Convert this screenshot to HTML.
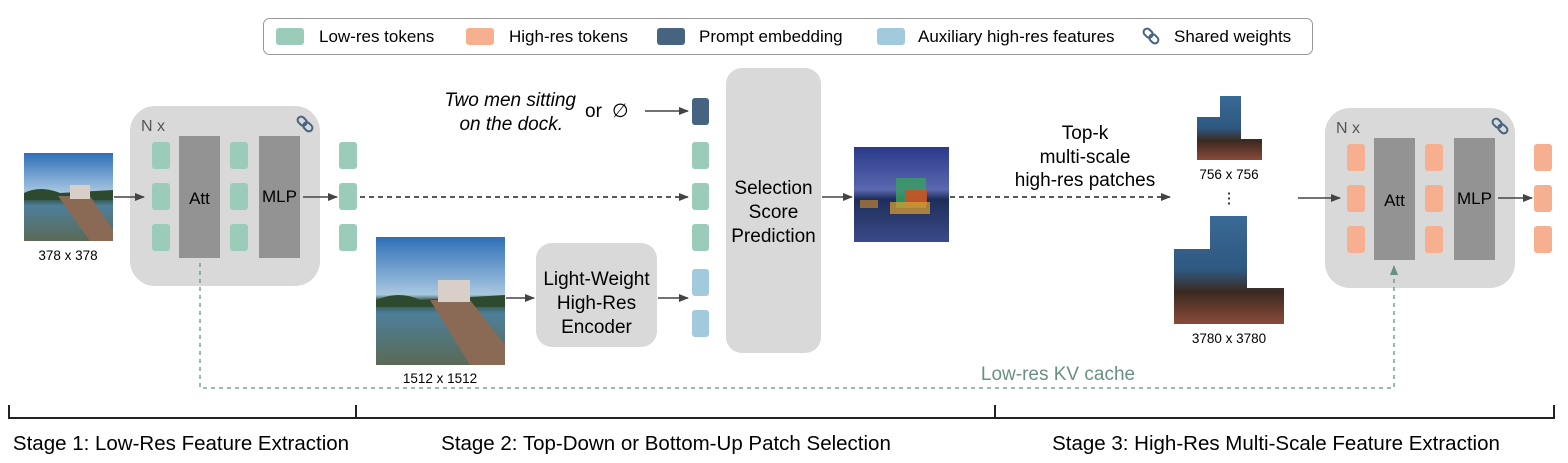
<!DOCTYPE html>
<html><head><meta charset="utf-8"><style>
html,body{margin:0;padding:0;background:#fff;}
svg{display:block;font-family:"Liberation Sans",Arial,sans-serif;}
</style></head><body>
<svg width="1568" height="463" viewBox="0 0 1568 463" xmlns="http://www.w3.org/2000/svg">
<defs>
<marker id="ah" viewBox="0 0 10 10" refX="9" refY="5" markerWidth="10" markerHeight="10" markerUnits="userSpaceOnUse" orient="auto"><path d="M0,1 L10,5 L0,9 z" fill="#444"/></marker>
<marker id="ag" viewBox="0 0 10 10" refX="9" refY="5" markerWidth="10" markerHeight="10" markerUnits="userSpaceOnUse" orient="auto"><path d="M0,1 L10,5 L0,9 z" fill="#6a9080"/></marker>
<linearGradient id="sky" x1="0" y1="0" x2="0" y2="1">
<stop offset="0" stop-color="#2f6fb8"/><stop offset="0.45" stop-color="#a8c8e0"/><stop offset="0.5" stop-color="#2b4a33"/><stop offset="0.6" stop-color="#4d7f9a"/><stop offset="1" stop-color="#5a6a55"/></linearGradient>
<linearGradient id="sky2" x1="0" y1="0" x2="0" y2="1">
<stop offset="0" stop-color="#2a3a8a"/><stop offset="0.45" stop-color="#5a68b0"/><stop offset="0.55" stop-color="#1e2e5a"/><stop offset="1" stop-color="#3a4a8a"/></linearGradient>
<linearGradient id="patch" x1="0" y1="0" x2="0" y2="1">
<stop offset="0" stop-color="#3a6a96"/><stop offset="0.5" stop-color="#2e5880"/><stop offset="0.7" stop-color="#3a2a20"/><stop offset="1" stop-color="#8a4a3a"/></linearGradient>
<g id="link" fill="none" stroke="#46637f" stroke-width="2"><rect x="-3.5" y="-9" width="7" height="10" rx="3.5"/><rect x="-3.5" y="-1" width="7" height="10" rx="3.5"/></g>
</defs>

<!-- legend -->
<rect x="263.5" y="18.5" width="1049" height="36" rx="6" fill="#fff" stroke="#999"/>
<rect x="276" y="28" width="28" height="17" rx="3" fill="#9bcbb9"/>
<text x="319" y="42" font-size="17">Low-res tokens</text>
<rect x="466" y="28" width="28" height="17" rx="3" fill="#f6b08f"/>
<text x="509" y="42" font-size="17">High-res tokens</text>
<rect x="657" y="28" width="28" height="17" rx="3" fill="#46637f"/>
<text x="699" y="42" font-size="17">Prompt embedding</text>
<rect x="877" y="28" width="28" height="17" rx="3" fill="#a1cbdc"/>
<text x="918" y="42" font-size="17">Auxiliary high-res features</text>
<use href="#link" transform="translate(1151,36) rotate(-45)"/>
<text x="1174" y="42" font-size="17">Shared weights</text>

<!-- left image -->
<rect x="24" y="153" width="89" height="88" fill="url(#sky)"/>
<path d="M24 193 Q40 185 60 193 L113 190 L113 200 L24 200z" fill="#2d4a2e"/>
<path d="M58 196 L90 196 L113 230 L113 241 L90 241z" fill="#8a6a55"/>
<rect x="70" y="185" width="20" height="14" fill="#d8d0c8"/>
<text x="68" y="260" font-size="13.5" text-anchor="middle">378 x 378</text>

<!-- block 1 -->
<rect x="130" y="106" width="190" height="180" rx="25" fill="#d9d9d9"/>
<text x="141" y="131" font-size="16" fill="#555">N x</text>
<use href="#link" transform="translate(305,124) rotate(-45)"/>
<g fill="#9bcbb9">
<rect x="152" y="142" width="18" height="27" rx="3"/><rect x="152" y="183" width="18" height="27" rx="3"/><rect x="152" y="224" width="18" height="27" rx="3"/>
<rect x="230" y="142" width="18" height="27" rx="3"/><rect x="230" y="183" width="18" height="27" rx="3"/><rect x="230" y="224" width="18" height="27" rx="3"/>
<rect x="339" y="142" width="18" height="27" rx="3"/><rect x="339" y="183" width="18" height="27" rx="3"/><rect x="339" y="224" width="18" height="27" rx="3"/>
</g>
<rect x="179" y="136" width="41" height="122" fill="#939393"/>
<rect x="259" y="136" width="41" height="122" fill="#939393"/>
<text x="199.5" y="204" font-size="17" text-anchor="middle">Att</text>
<text x="279.5" y="202" font-size="17" text-anchor="middle">MLP</text>
<line x1="114" y1="197" x2="144" y2="197" stroke="#444" stroke-width="1.5" marker-end="url(#ah)"/>
<line x1="303" y1="197" x2="337" y2="197" stroke="#444" stroke-width="1.5" marker-end="url(#ah)"/>
<line x1="360" y1="197" x2="688" y2="197" stroke="#222" stroke-width="1.5" stroke-dasharray="5,4" marker-end="url(#ah)"/>

<!-- prompt -->
<text x="576" y="106" font-size="19" font-style="italic" text-anchor="end">Two men sitting</text>
<text x="563" y="130" font-size="19" font-style="italic" text-anchor="end">on the dock.</text>
<text x="585" y="117" font-size="19">or</text>
<text x="612" y="117" font-size="19">∅</text>
<line x1="645" y1="111" x2="688" y2="111" stroke="#444" stroke-width="1.5" marker-end="url(#ah)"/>
<rect x="692" y="98" width="17" height="27" rx="3" fill="#46637f"/>
<g fill="#9bcbb9"><rect x="692" y="142" width="17" height="27" rx="3"/><rect x="692" y="183" width="17" height="27" rx="3"/><rect x="692" y="224" width="17" height="27" rx="3"/></g>
<g fill="#a1cbdc"><rect x="692" y="269" width="17" height="27" rx="3"/><rect x="692" y="310" width="17" height="27" rx="3"/></g>

<!-- big image -->
<rect x="376" y="237" width="129" height="128" fill="url(#sky)"/>
<path d="M376 300 Q400 290 420 300 L505 295 L505 307 L376 307z" fill="#2d4a2e"/>
<path d="M430 300 L470 300 L505 345 L505 365 L470 365z" fill="#8a6a55"/>
<rect x="438" y="280" width="32" height="22" fill="#d8d0c8"/>
<text x="440" y="383" font-size="13.5" text-anchor="middle">1512 x 1512</text>
<line x1="506" y1="298" x2="534" y2="298" stroke="#444" stroke-width="1.5" marker-end="url(#ah)"/>
<rect x="536" y="243" width="121" height="104" rx="16" fill="#d9d9d9"/>
<text x="596.5" y="285" font-size="19" text-anchor="middle">Light-Weight</text>
<text x="596.5" y="309" font-size="19" text-anchor="middle">High-Res</text>
<text x="596.5" y="333" font-size="19" text-anchor="middle">Encoder</text>
<line x1="658" y1="298" x2="688" y2="298" stroke="#444" stroke-width="1.5" marker-end="url(#ah)"/>

<!-- selection -->
<rect x="726" y="68" width="95" height="285" rx="16" fill="#d9d9d9"/>
<text x="773.5" y="194" font-size="19" text-anchor="middle">Selection</text>
<text x="773.5" y="218" font-size="19" text-anchor="middle">Score</text>
<text x="773.5" y="242" font-size="19" text-anchor="middle">Prediction</text>
<line x1="822" y1="197" x2="852" y2="197" stroke="#444" stroke-width="1.5" marker-end="url(#ah)"/>

<!-- heatmap -->
<rect x="854" y="147" width="95" height="95" fill="url(#sky2)"/>
<rect x="896" y="178" width="30" height="30" fill="#3aa060" opacity="0.8"/>
<rect x="905" y="190" width="22" height="15" fill="#d05020" opacity="0.85"/>
<rect x="890" y="202" width="40" height="12" fill="#e0a030" opacity="0.7"/>
<rect x="860" y="200" width="18" height="8" fill="#c08030" opacity="0.7"/>
<line x1="950" y1="197" x2="1170" y2="197" stroke="#222" stroke-width="1.5" stroke-dasharray="5,4" marker-end="url(#ah)"/>
<text x="1062" y="139" font-size="19" text-anchor="middle" dx="23">Top-k</text>
<text x="1062" y="163" font-size="19" text-anchor="middle" dx="23">multi-scale</text>
<text x="1062" y="186" font-size="19" text-anchor="middle" dx="23">high-res patches</text>

<!-- patches -->
<path d="M1197 117 L1220 117 L1220 96 L1241 96 L1241 139 L1262 139 L1262 160 L1197 160z" fill="url(#patch)"/>
<text x="1229" y="179" font-size="13.5" text-anchor="middle">756 x 756</text>
<text x="1229" y="203" font-size="15" text-anchor="middle">⋮</text>
<path d="M1174 249 L1210 249 L1210 216 L1247 216 L1247 288 L1284 288 L1284 324 L1174 324z" fill="url(#patch)"/>
<text x="1229" y="343" font-size="13.5" text-anchor="middle">3780 x 3780</text>

<!-- block 2 -->
<rect x="1325" y="108" width="190" height="180" rx="25" fill="#d9d9d9"/>
<text x="1336" y="133" font-size="16" fill="#555">N x</text>
<use href="#link" transform="translate(1500,126) rotate(-45)"/>
<g fill="#f6b08f">
<rect x="1347" y="144" width="18" height="27" rx="3"/><rect x="1347" y="185" width="18" height="27" rx="3"/><rect x="1347" y="226" width="18" height="27" rx="3"/>
<rect x="1425" y="144" width="18" height="27" rx="3"/><rect x="1425" y="185" width="18" height="27" rx="3"/><rect x="1425" y="226" width="18" height="27" rx="3"/>
<rect x="1534" y="144" width="18" height="27" rx="3"/><rect x="1534" y="185" width="18" height="27" rx="3"/><rect x="1534" y="226" width="18" height="27" rx="3"/>
</g>
<rect x="1374" y="138" width="41" height="122" fill="#939393"/>
<rect x="1454" y="138" width="41" height="122" fill="#939393"/>
<text x="1394.5" y="206" font-size="17" text-anchor="middle">Att</text>
<text x="1474.5" y="204" font-size="17" text-anchor="middle">MLP</text>
<line x1="1298" y1="198" x2="1340" y2="198" stroke="#444" stroke-width="1.5" marker-end="url(#ah)"/>
<line x1="1498" y1="198" x2="1532" y2="198" stroke="#444" stroke-width="1.5" marker-end="url(#ah)"/>

<!-- KV cache -->
<polyline points="200,263 200,388 1394,388 1394,266" fill="none" stroke="#6a9080" stroke-width="1.3" stroke-dasharray="4,4" marker-end="url(#ag)"/>
<text x="1058" y="380" font-size="19" fill="#6a9080" text-anchor="middle">Low-res KV cache</text>

<!-- stages -->
<g stroke="#222" stroke-width="2">
<line x1="8" y1="418" x2="1555" y2="418"/>
<line x1="9" y1="405" x2="9" y2="419"/><line x1="356" y1="405" x2="356" y2="419"/>
<line x1="995" y1="405" x2="995" y2="419"/><line x1="1554" y1="405" x2="1554" y2="419"/>
</g>
<text x="181" y="450" font-size="20.5" text-anchor="middle">Stage 1: Low-Res Feature Extraction</text>
<text x="666" y="450" font-size="20.5" text-anchor="middle">Stage 2: Top-Down or Bottom-Up Patch Selection</text>
<text x="1276" y="450" font-size="20.5" text-anchor="middle">Stage 3: High-Res Multi-Scale Feature Extraction</text>
</svg>
</body></html>
